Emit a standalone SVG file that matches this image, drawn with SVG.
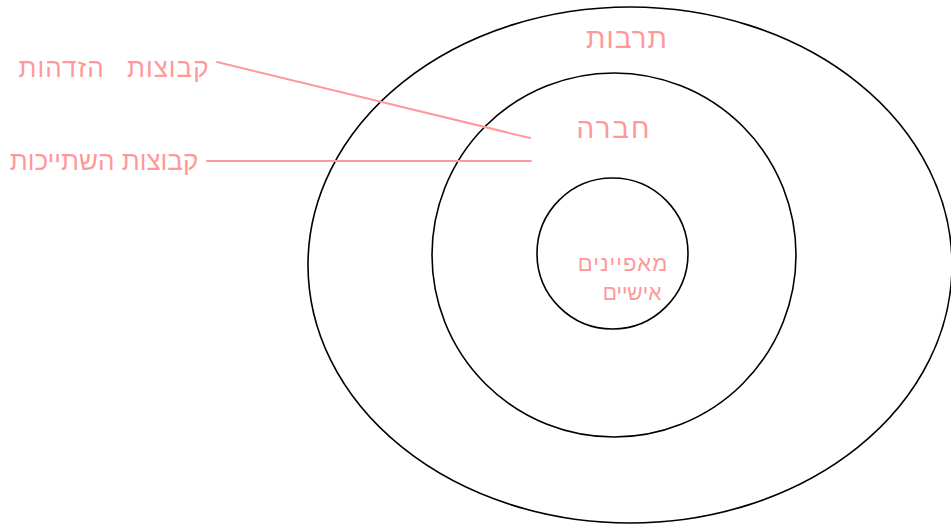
<svg xmlns="http://www.w3.org/2000/svg" width="951" height="527" viewBox="0 0 951 527">
<style>
.ring{fill:none;stroke:#000;stroke-width:1.6}
.lbl{font-family:"Liberation Sans","DejaVu Sans",sans-serif;fill:#ff9999;text-anchor:middle;direction:rtl}
.conn{stroke:#ff9999;stroke-width:2;fill:none;stroke-linecap:round}
</style>
<rect width="951" height="527" fill="#fff"/>
<g id="culture">
<ellipse class="ring" cx="630" cy="265" rx="322" ry="258"/>
<text class="lbl" x="627" y="48" font-size="28" letter-spacing="1">תרבות</text>
</g>
<g id="society">
<circle class="ring" cx="614" cy="255" r="182"/>
<text class="lbl" x="614" y="138" font-size="28" letter-spacing="2">חברה</text>
</g>
<g id="personal">
<circle class="ring" cx="612.5" cy="253.5" r="75.5"/>
<text class="lbl" x="623" y="271" font-size="22" letter-spacing="1">מאפיינים</text>
<text class="lbl" x="632" y="300" font-size="21">אישיים</text>
</g>
<g id="identification-groups">
<text class="lbl" x="114" y="77" font-size="26" word-spacing="14" letter-spacing="1">קבוצות הזדהות</text>
</g>
<g id="membership-groups">
<text class="lbl" x="104" y="170" font-size="26">קבוצות השתייכות</text>
</g>
<g id="connectors">
<line class="conn" x1="217" y1="62" x2="530" y2="138"/>
<line class="conn" x1="207" y1="161" x2="531" y2="161"/>
</g>
</svg>
